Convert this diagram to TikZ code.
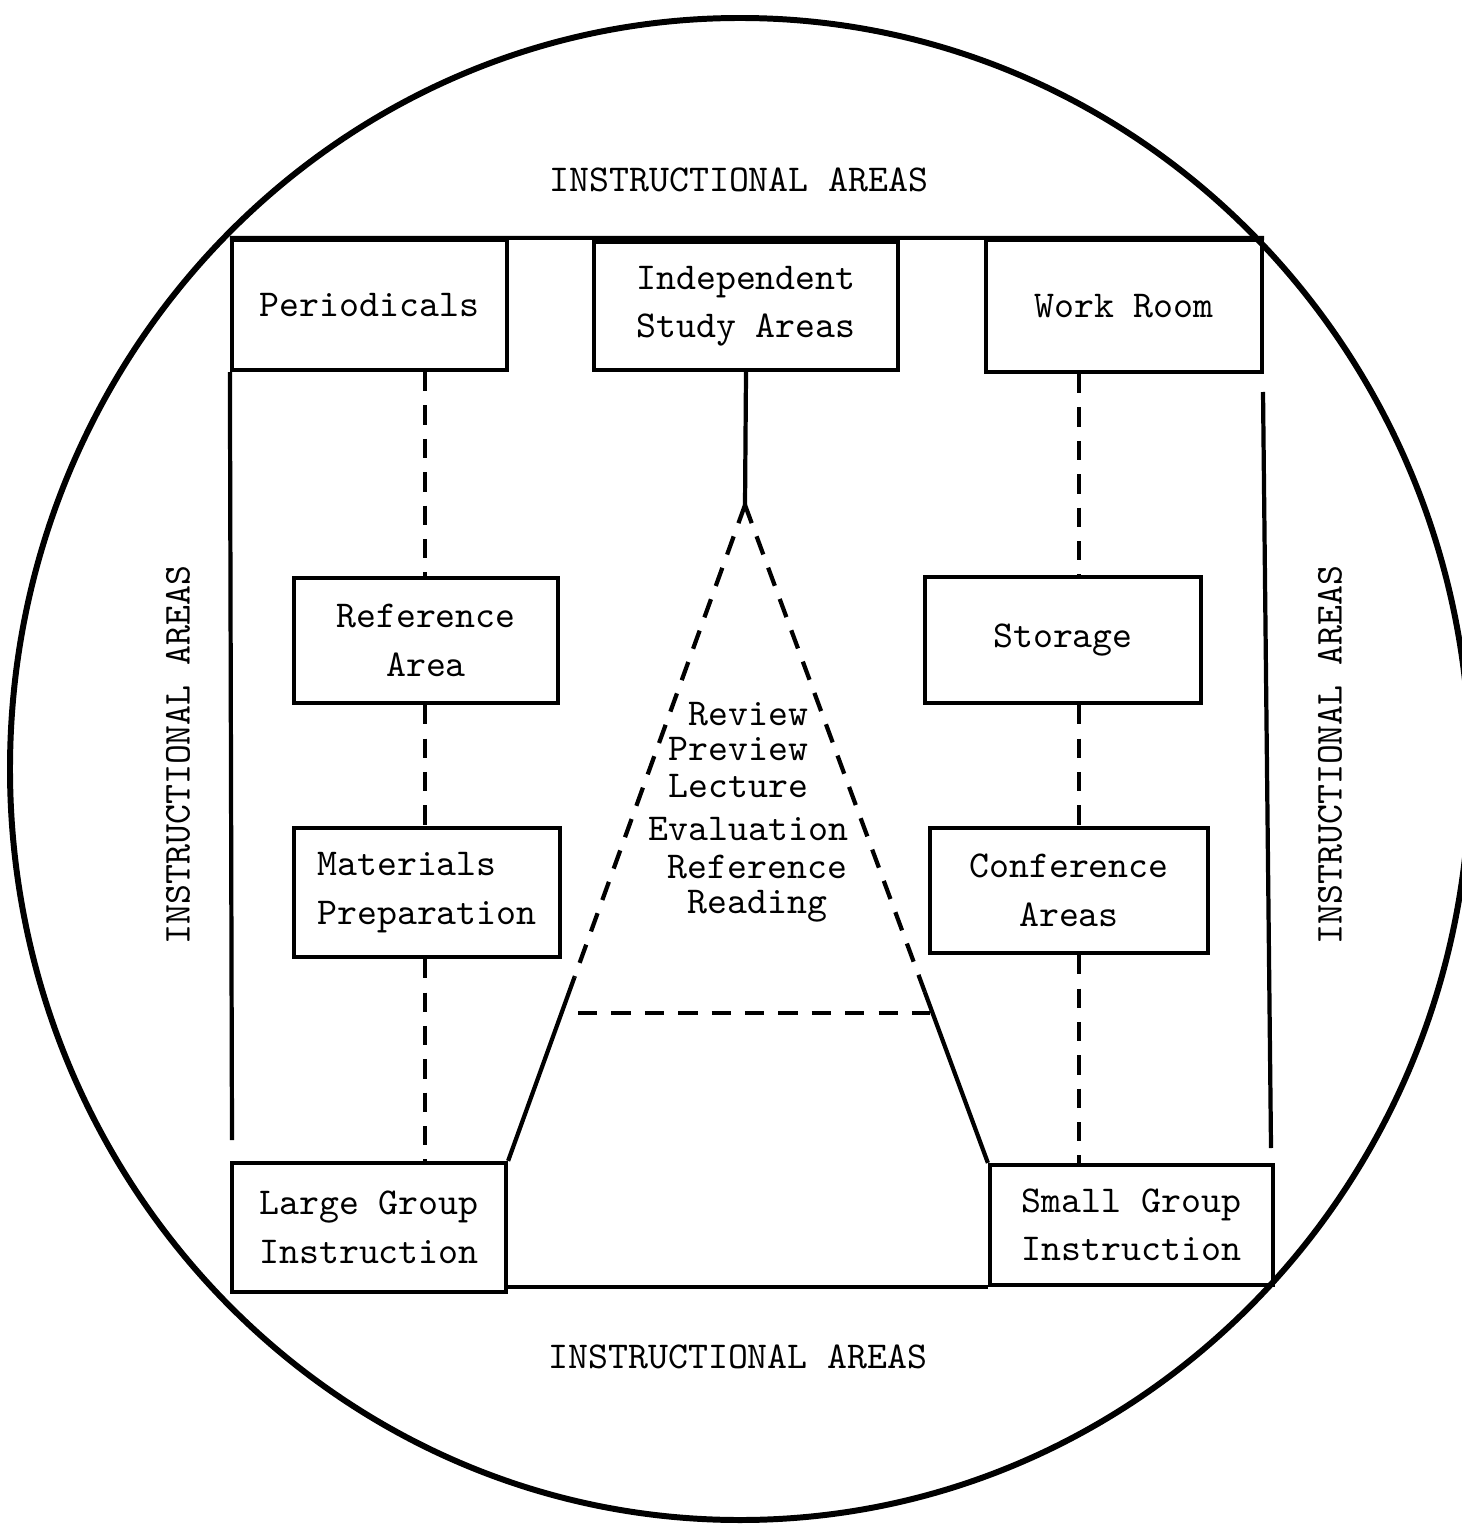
\documentclass[tikz,border=0pt]{standalone}
\usepackage{fontspec}
\usetikzlibrary{calc}

\begin{document}
\begin{tikzpicture}[x=1cm, y=-1cm,
		every node/.style={font=\ttfamily\fontsize{10.8}{13.8}\selectfont},
		room/.style={draw, line width=1.2pt, inner sep=0pt, align=center},
		topic/.style={anchor=base west, inner sep=0pt},
		link/.style={line width=1.2pt, dash pattern=on 5.5pt off 4pt},
		wall/.style={line width=1.2pt}]
		\useasboundingbox (0,0) rectangle (14.61,15.25);

		\draw[line width=1.7pt] (7.40,7.69) ellipse [x radius=7.30, y radius=7.51];

		\node[room, minimum width=2.75cm, minimum height=1.30cm] (peri) at (3.695,3.05) {Periodicals};
		\node[room, minimum width=3.04cm, minimum height=1.28cm] (indep) at (7.46,3.06) {Independent\\Study Areas};
		\node[room, minimum width=2.76cm, minimum height=1.32cm] (work) at (11.24,3.06) {Work Room};

		\node[room, minimum width=2.64cm, minimum height=1.25cm] (ref) at (4.26,6.405) {Reference\\Area};
		\node[room, minimum width=2.76cm, minimum height=1.26cm] (stor) at (10.63,6.40) {Storage};

		\node[room, align=left, minimum width=2.66cm, minimum height=1.29cm] (mat) at (4.27,8.925) {Materials\\Preparation};
		\node[room, minimum width=2.78cm, minimum height=1.25cm] (conf) at (10.69,8.905) {Conference\\Areas};

		\node[room, minimum width=2.74cm, minimum height=1.29cm] (large) at (3.69,12.275) {Large Group\\Instruction};
		\node[room, minimum width=2.83cm, minimum height=1.20cm] (small) at (11.315,12.25) {Small Group\\Instruction};

		\node (ia-top) at (7.39,1.80) {INSTRUCTIONAL AREAS};
		\node (ia-bot) at (7.38,13.57) {INSTRUCTIONAL AREAS};
		\node[rotate=90] (ia-left) at (1.78,7.55) {INSTRUCTIONAL AREAS};
		\node[rotate=90] (ia-right) at (13.30,7.55) {INSTRUCTIONAL AREAS};

		\node[topic] (review) at (6.88,7.25) {Review};
		\node[topic] (preview) at (6.68,7.60) {Preview};
		\node[topic] (lecture) at (6.68,7.97) {Lecture};
		\node[topic] (evaluation) at (6.48,8.40) {Evaluation};
		\node[topic] (reference) at (6.67,8.78) {Reference};
		\node[topic] (reading) at (6.87,9.13) {Reading};

		% outer frame
		\coordinate (lend) at (2.32,11.40);
		\coordinate (rtop) at (12.63,3.92);
		\coordinate (rend) at (12.71,11.48);
		\draw[wall] (peri.north west) -- (work.north east);
		\draw[wall] (peri.south west) -- (lend);
		\draw[wall] (rtop) -- (rend);
		\draw[wall] (large.south east |- small.south) -- (small.south west);

		% dashed columns
		\coordinate (lcol) at (4.25,0);
		\coordinate (rcol) at (10.79,0);
		\draw[link] (lcol |- peri.south) -- (lcol |- ref.north);
		\draw[link] (lcol |- ref.south) -- (lcol |- mat.north);
		\draw[link] (lcol |- mat.south) -- (lcol |- large.north);
		\draw[link] (rcol |- work.south) -- (rcol |- stor.north);
		\draw[link] (rcol |- stor.south) -- (rcol |- conf.north);
		\draw[link] (rcol |- conf.south) -- (rcol |- small.north);

		% triangle
		\coordinate (apex) at (7.45,5.05);
		\coordinate (lcut) at ($(apex)!0.72!(large.north east)$);
		\coordinate (rcut) at ($(apex)!0.74!(small.north west)$);
		\coordinate (baseL) at (5.78,10.13);
		\coordinate (baseR) at (9.30,10.13);
		\draw[wall] (indep.south) -- (apex);
		\draw[link] (apex) -- (lcut);
		\draw[wall] (lcut) -- (large.north east);
		\draw[link] (apex) -- (rcut);
		\draw[wall] (rcut) -- (small.north west);
		\draw[link] (baseL) -- (baseR);
	\end{tikzpicture}
\end{document}
